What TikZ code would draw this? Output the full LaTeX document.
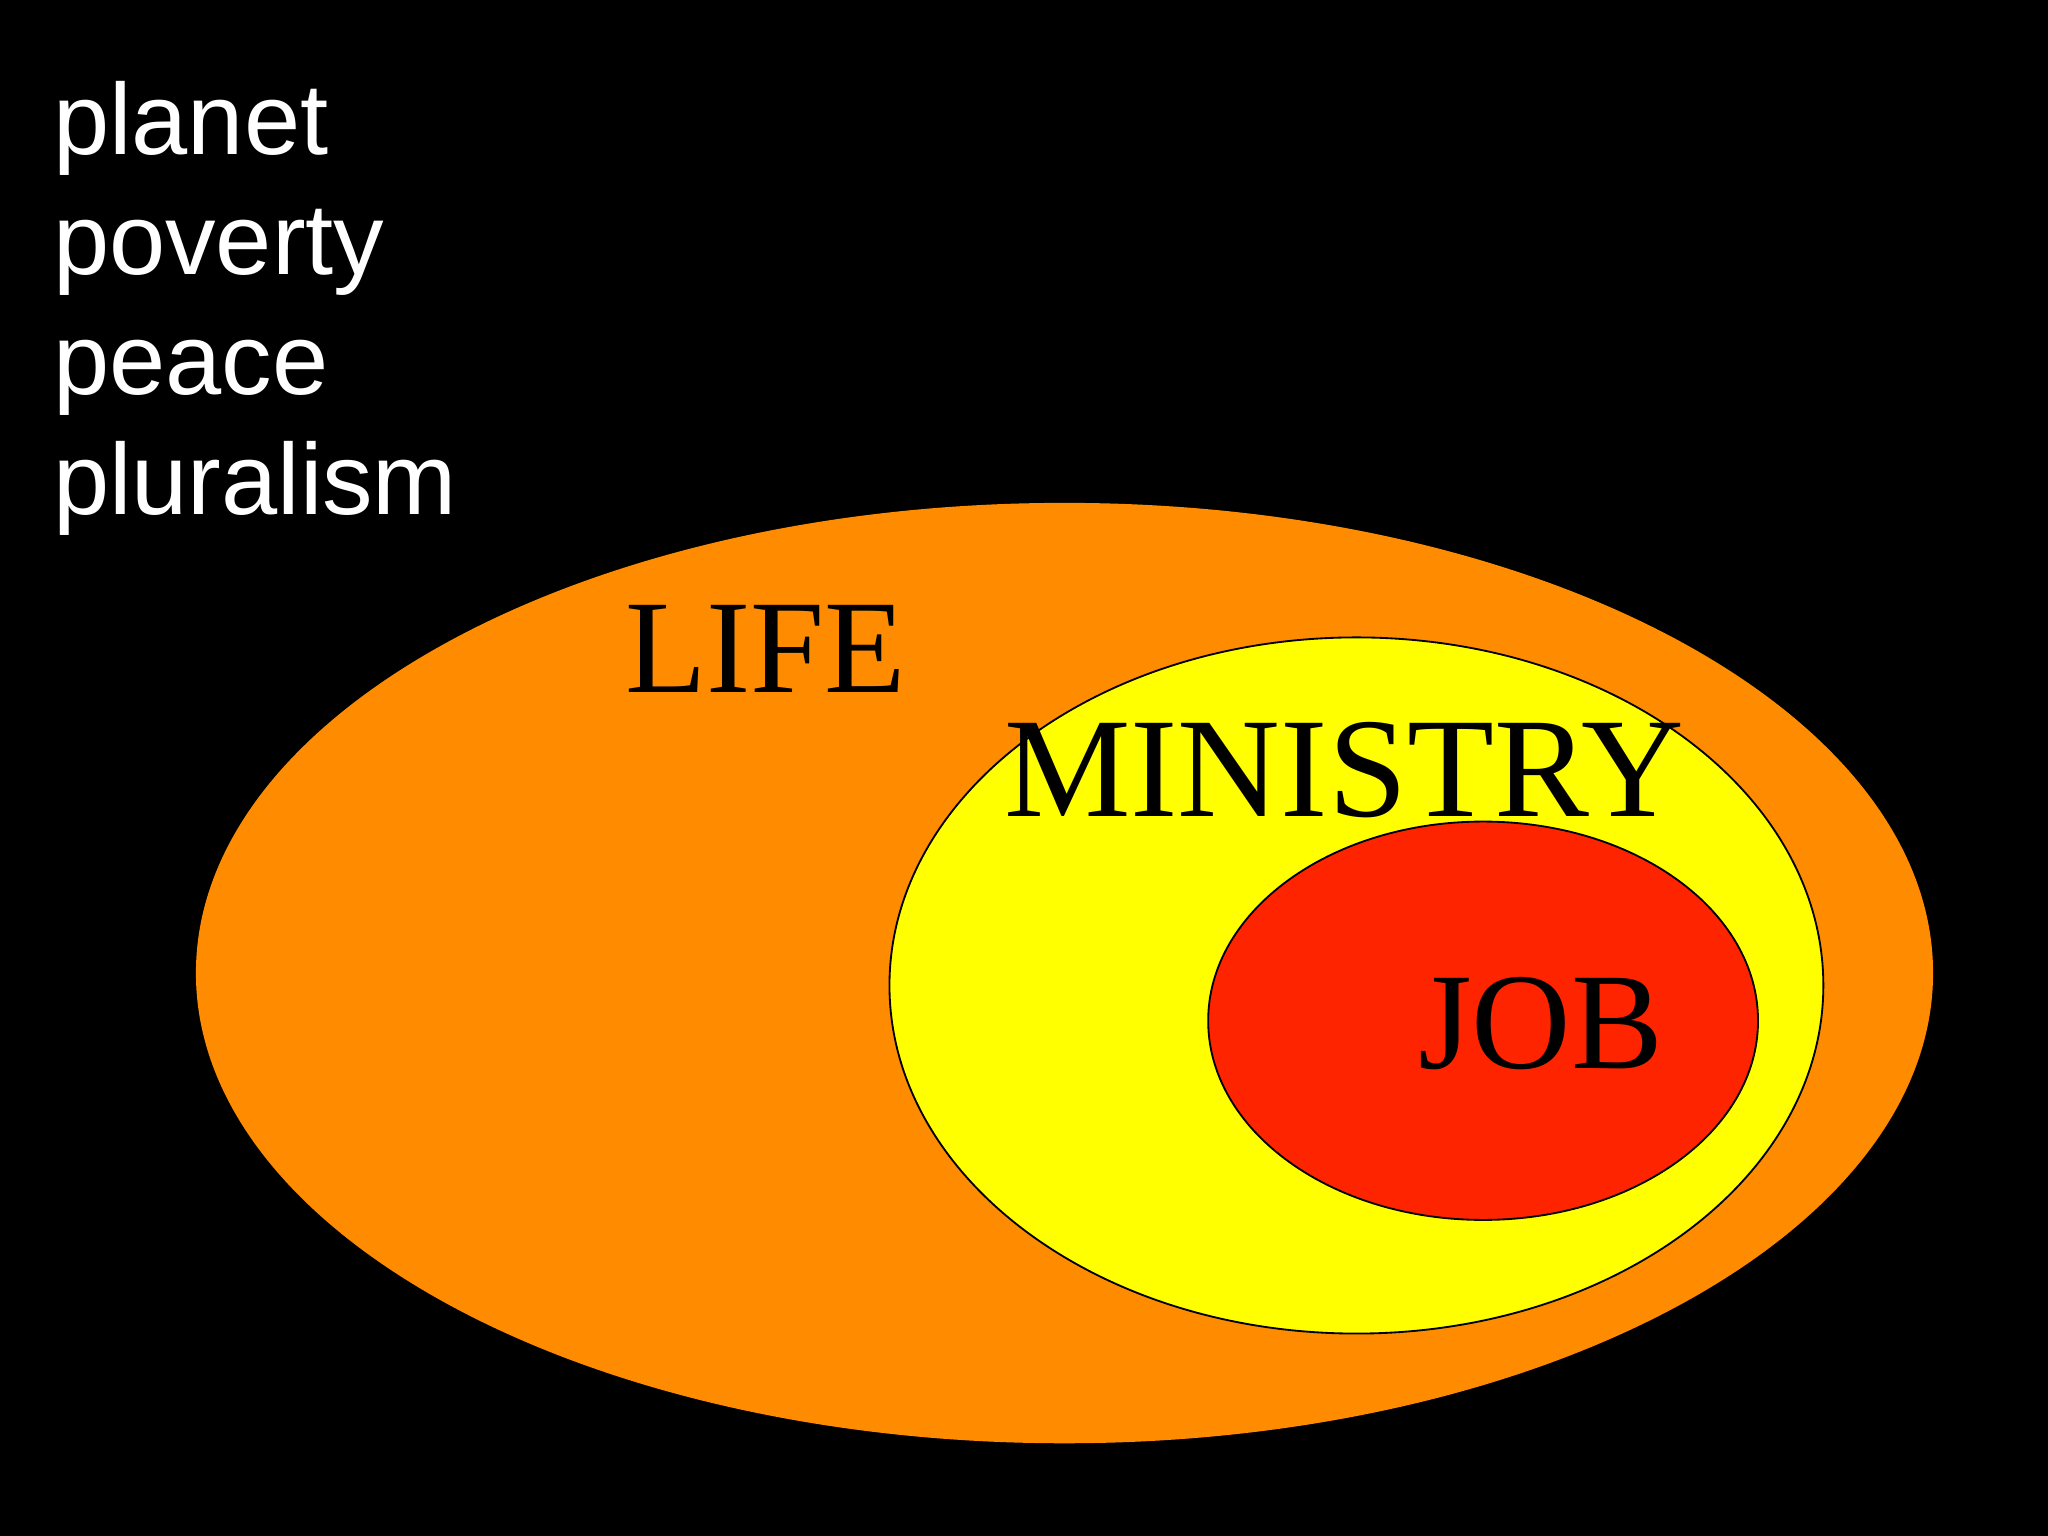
\documentclass[tikz,border=0pt]{standalone}
\usepackage{fontspec}
\setmainfont{Liberation Serif}
\newfontfamily\arialf{Liberation Sans}
\definecolor{lifeor}{HTML}{FF8C00}
\definecolor{minye}{HTML}{FFFF00}
\definecolor{jobred}{HTML}{FF2400}
\begin{document}
\begin{tikzpicture}[x=0.1mm,y=-0.1mm,
  wlist/.style={anchor=base west,text=white,font=\arialf\fontsize{22}{26}\selectfont,inner sep=0pt},
  lab/.style={anchor=base west,text=black,inner sep=0pt}]
\fill[black] (0,0) rectangle (1568,1176);
\useasboundingbox (0,0) rectangle (1568,1176);
\fill[lifeor] (815,745) ellipse [x radius=665, y radius=360];
\filldraw[fill=minye,draw=black,line width=0.4pt] (1038.5,754.5) ellipse [x radius=357.5, y radius=266.5];
\filldraw[fill=jobred,draw=black,line width=0.4pt] (1135.5,781.5) ellipse [x radius=210.5, y radius=152.5];
\node[wlist] (w1) at (40,118) {planet};
\node[wlist] (w2) at (40,210) {poverty};
\node[wlist] (w3) at (40,302) {peace};
\node[wlist] (w4) at (40,394) {pluralism};
\node[lab,font=\fontsize{29}{32}\selectfont] (life) at (478,530) {LIFE};
\node[lab,font=\fontsize{31}{34}\selectfont] (min) at (768,625) {MINISTRY};
\node[lab,font=\fontsize{30}{33}\selectfont] (job) at (1085,818) {JOB};
\end{tikzpicture}
\end{document}
